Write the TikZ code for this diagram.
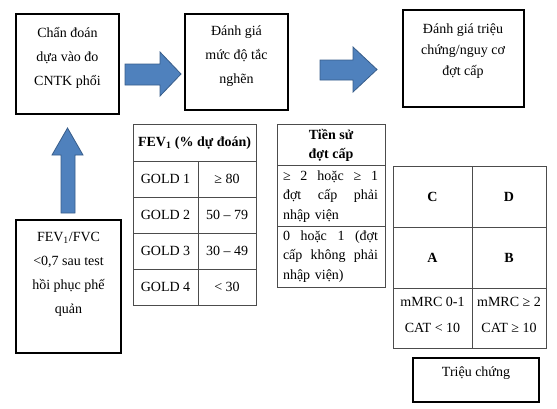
\documentclass[tikz,border=0pt]{standalone}
\usepackage{fontspec}
\setmainfont{Liberation Serif}
\definecolor{arrowblue}{HTML}{4F81BD}
\definecolor{arrowedge}{HTML}{385D8A}
\newcommand{\fullline}[1]{\leavevmode\hbox to 95pt{#1}}
\begin{document}
\begin{tikzpicture}[x=1pt,y=-1pt]
      \tikzstyle{every node}+=[inner sep=0pt, font=\fontsize{14}{24}\selectfont]
      \tikzstyle{box}=[draw=black, line width=2pt]
      \tikzstyle{cell}=[draw=black!70, line width=0.9pt]
      \tikzstyle{bigarrow}=[fill=arrowblue, draw=arrowedge, line width=0.8pt, line join=miter]
      \useasboundingbox (0,0) rectangle (557,408);
      % top row of boxes
      \draw [box] (16,14) rectangle (119,114);
      \node [align=center] (chan) at (67.5,57.5) {Chẩn đoán\\dựa vào đo\\CNTK phổi};
      \draw [box] (185,14) rectangle (288,110);
      \node [align=center] (mucdo) at (236.5,56.5) {Đánh giá\\mức độ tắc\\nghẽn};
      \draw [box] (403,10) rectangle (524,107);
      \node [align=center, font=\fontsize{14}{21}\selectfont] (trieu) at (463,51) {Đánh giá triệu\\chứng/nguy cơ\\đợt cấp};
      \draw [box] (16,220) rectangle (121,353);
      \node [align=center] (fevfvc) at (68.5,274.5) {FEV\textsubscript{1}/FVC\\<0,7 sau test\\hồi phục phế\\quản};
      % block arrows
      \draw [bigarrow] (125,64) -- (160,64) -- (160,52) -- (181,74) -- (160,96) -- (160,85) -- (125,85) -- cycle;
      \draw [bigarrow] (320,60) -- (353,60) -- (353,47) -- (377,69.5) -- (353,92) -- (353,80) -- (320,80) -- cycle;
      \draw [bigarrow] (61,213) -- (61,155) -- (52,155) -- (67.5,128) -- (83,155) -- (75,155) -- (75,213) -- cycle;
      % FEV1 table
      \draw [cell] (133,124) rectangle (256,305);
      \foreach \y in {161,197,233,269}
        \draw [cell] (133,\y) -- (256,\y);
      \draw [cell] (198,161) -- (198,305);
      \node (fevhead) at (194.5,143) {\bfseries FEV\textsubscript{1} (\% dự đoán)};
      \node (gold1) at (165.5,179) {GOLD 1};
      \node (val1) at (227,179) {≥ 80};
      \node (gold2) at (165.5,215) {GOLD 2};
      \node (val2) at (227,215) {50 – 79};
      \node (gold3) at (165.5,251) {GOLD 3};
      \node (val3) at (227,251) {30 – 49};
      \node (gold4) at (165.5,287) {GOLD 4};
      \node (val4) at (227,287) {< 30};
      % exacerbation history table
      \draw [cell] (277,124) rectangle (385,287);
      \draw [cell] (277,165) -- (385,165);
      \draw [cell] (277,226) -- (385,226);
      \node [align=center, font=\bfseries\fontsize{14}{19}\selectfont] (tiensu) at (331,145) {Tiền sử\\đợt cấp};
      \node [text width=95pt, align=left, font=\fontsize{14}{19.5}\selectfont] (cao) at (330.5,196.5)
        {\fullline{≥\hfil 2\hfil hoặc\hfil ≥\hfil 1}\\\fullline{đợt\hfil cấp\hfil phải}\\nhập viện};
      \node [text width=95pt, align=left, font=\fontsize{14}{19.5}\selectfont] (thap) at (330.5,256.5)
        {\fullline{0\hfil hoặc\hfil 1\hfil (đợt}\\\fullline{cấp\hfil không\hfil phải}\\nhập viện)};
      % ABCD grid
      \draw [cell] (393,166) rectangle (546,348);
      \draw [cell] (393,227) -- (546,227);
      \draw [cell] (393,288) -- (546,288);
      \draw [cell] (472,166) -- (472,348);
      \node (grC) at (432.5,196.5) {\bfseries C};
      \node (grD) at (509,196.5) {\bfseries D};
      \node (grA) at (432.5,257.5) {\bfseries A};
      \node (grB) at (509,257.5) {\bfseries B};
      \node (mmrcA) at (432.5,302) {mMRC 0-1};
      \node (catA) at (432.5,328) {CAT < 10};
      \node (mmrcB) at (509,302) {mMRC ≥ 2};
      \node (catB) at (509,328) {CAT ≥ 10};
      % symptom box
      \draw [box] (413,358) rectangle (539,402);
      \node (trieuchung) at (476,373) {Triệu chứng};
\end{tikzpicture}
\end{document}
